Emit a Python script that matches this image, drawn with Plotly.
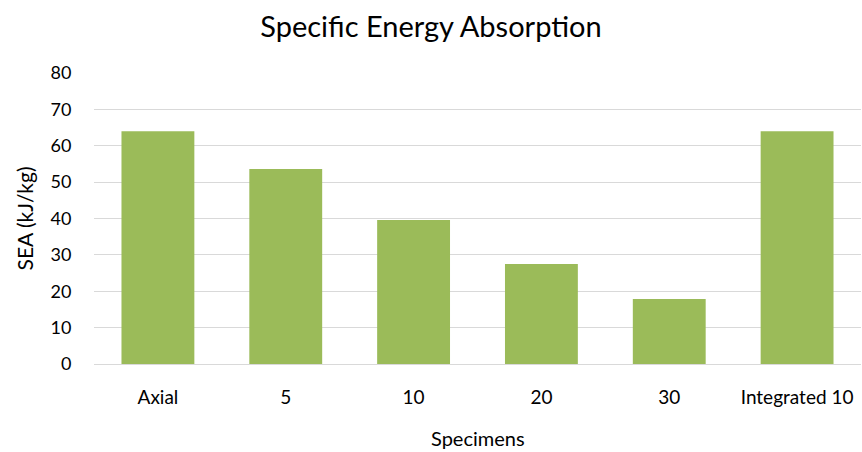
import plotly.graph_objects as go

# Specific energy absorption per specimen type
specimens = ["Axial", "5", "10", "20", "30", "Integrated 10"]
sea_values = [64.0, 53.6, 39.6, 27.5, 17.9, 64.0]

bar_color = "#9BBB59"
grid_color = "#D9D9D9"
font_family = "Lato, 'Open Sans', sans-serif"
text_color = "#000000"

fig = go.Figure(
    go.Bar(
        x=specimens,
        y=sea_values,
        marker=dict(color=bar_color, line=dict(width=0)),
    )
)

fig.update_layout(
    width=862,
    height=452,
    margin=dict(l=94, r=1, t=73, b=88),
    paper_bgcolor="white",
    plot_bgcolor="white",
    bargap=0.43,
    showlegend=False,
    font=dict(family=font_family, size=19, color=text_color),
    title=dict(
        text="Specific Energy Absorption",
        x=0.5,
        xanchor="center",
        y=1 - 27 / 452,
        yanchor="middle",
        font=dict(family=font_family, size=29, color=text_color),
    ),
    annotations=[
        dict(
            text="SEA (kJ/kg)",
            xref="paper",
            yref="paper",
            x=0,
            y=0.5,
            xanchor="center",
            yanchor="middle",
            xshift=-70,
            textangle=-90,
            showarrow=False,
            font=dict(family=font_family, size=21, color=text_color),
        ),
        dict(
            text="Specimens",
            xref="paper",
            yref="paper",
            x=0.5,
            y=0,
            xanchor="center",
            yanchor="middle",
            yshift=-74,
            showarrow=False,
            font=dict(family=font_family, size=20, color=text_color),
        ),
    ],
)

fig.update_xaxes(
    showgrid=False,
    showline=True,
    linecolor=grid_color,
    linewidth=1,
    ticks="outside",
    ticklen=16,
    tickcolor="rgba(0,0,0,0)",
    tickfont=dict(family=font_family, size=19, color=text_color),
)

fig.update_yaxes(
    range=[0, 80],
    dtick=10,
    showgrid=True,
    gridcolor=grid_color,
    gridwidth=1,
    zeroline=False,
    showline=False,
    ticks="outside",
    ticklen=18,
    tickcolor="rgba(0,0,0,0)",
    tickfont=dict(family=font_family, size=18, color=text_color),
)

fig.write_html("out.html")
